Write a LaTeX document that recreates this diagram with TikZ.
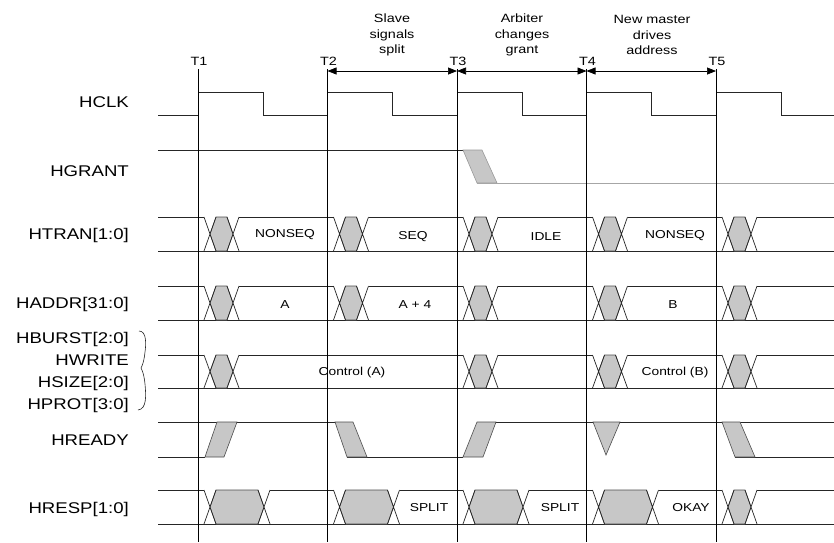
\documentclass[tikz,border=0pt]{standalone}
\usepackage{fontspec}
\setmainfont{Liberation Sans}[FakeStretch=1.2]
\usetikzlibrary{arrows.meta}

\tikzstyle{signame} = [anchor=base east, inner sep=0pt, font=\fontsize{15.5}{18}\selectfont]
\tikzstyle{buslabel} = [anchor=base, inner sep=0pt, font=\fontsize{11.5}{13}\selectfont]
\tikzstyle{tlabel} = [anchor=base, inner sep=0pt, font=\fontsize{12}{14}\selectfont]
\tikzstyle{remark} = [align=center, inner sep=0pt, font=\fontsize{12}{15.5}\selectfont]
\tikzstyle{wave} = [draw=black!85, line width=0.7pt]
\tikzstyle{hex} = [fill=black!22, draw=black!70, line width=0.6pt]
\tikzstyle{edgeline} = [draw=black, line width=0.8pt]

% #1 and #2 crossing points, #3 top, #4 bottom
\newcommand{\busswap}[4]{
  \fill[white] (#1-6,#3) rectangle (#2+6,#4);
  \filldraw[hex] (#1,{(#3+#4)/2}) -- (#1+6,#3) -- (#2-6,#3) -- (#2,{(#3+#4)/2})
                 -- (#2-6,#4) -- (#1+6,#4) -- cycle;
  \draw[wave] (#1-6,#3) -- (#1+6,#4) (#1-6,#4) -- (#1+6,#3)
              (#2-6,#3) -- (#2+6,#4) (#2-6,#4) -- (#2+6,#3);
}

\begin{document}
\begin{tikzpicture}[x=1pt,y=-1pt,>={Triangle[length=9pt,width=7pt]},line join=miter]
  \useasboundingbox (0,0) rectangle (834,542);

  % signal names
  \node[signame] (hclk)   at (129,107.5) {HCLK};
  \node[signame] (hgrant) at (129,176.5) {HGRANT};
  \node[signame] (htran)  at (129,239.5) {HTRAN[1:0]};
  \node[signame] (haddr)  at (129,308)   {HADDR[31:0]};
  \node[signame] (hburst) at (129,343.5) {HBURST[2:0]};
  \node[signame] (hwrite) at (129,365.5) {HWRITE};
  \node[signame] (hsize)  at (129,387.5) {HSIZE[2:0]};
  \node[signame] (hprot)  at (129,409.5) {HPROT[3:0]};
  \node[signame] (hready) at (129,445.5) {HREADY};
  \node[signame] (hresp)  at (129,513)   {HRESP[1:0]};
  \draw[wave, line width=0.6pt] (139,331) .. controls (147,331) and (146,345) .. (145,352)
        .. controls (144,362) and (142,366) .. (141,368)
        .. controls (142,370) and (144,374) .. (145,384)
        .. controls (146,395) and (147,409) .. (138,410);

  % HCLK
  \draw[wave] (158,115) -- (198,115) -- (198,92) -- (263,92) -- (263,115)
    -- (327.5,115) -- (327.5,92) -- (392.5,92) -- (392.5,115)
    -- (457,115) -- (457,92) -- (522,92) -- (522,115)
    -- (586.5,115) -- (586.5,92) -- (651.5,92) -- (651.5,115)
    -- (716,115) -- (716,92) -- (781,92) -- (781,115) -- (834,115);

  % HGRANT
  \draw[wave] (158,150) -- (463,150);
  \filldraw[fill=black!22, draw=black!40, line width=0.6pt]
    (463,150) -- (482,150) -- (497,183) -- (477,183) -- cycle;
  \draw[black!35, line width=1pt] (477,183) -- (834,183);

  % HTRAN
  \draw[wave] (158,217) -- (834,217) (158,251) -- (834,251);
  \foreach \x in {198,327.5,457,586.5,716}
    \busswap{\x+12}{\x+35}{217}{251};
  \node[buslabel] (nonseqa) at (285,237.5) {NONSEQ};
  \node[buslabel] (seq)     at (413,239)   {SEQ};
  \node[buslabel] (idle)    at (546,240.5) {IDLE};
  \node[buslabel] (nonseqb) at (675,238)   {NONSEQ};

  % HADDR
  \draw[wave] (158,286) -- (834,286) (158,320) -- (834,320);
  \foreach \x in {198,327.5,457,586.5,716}
    \busswap{\x+12}{\x+35}{286}{320};
  \node[buslabel] (addra)  at (285,308.5) {A};
  \node[buslabel] (addra4) at (415,308.5) {A + 4};
  \node[buslabel] (addrb)  at (673,308.5) {B};

  % control
  \draw[wave] (158,355) -- (834,355) (158,388) -- (834,388);
  \foreach \x in {198,457,586.5,716}
    \busswap{\x+12}{\x+35}{355}{388};
  \node[buslabel] (ctrla) at (352,375.5) {Control (A)};
  \node[buslabel] (ctrlb) at (675,375.5) {Control (B)};

  % HREADY
  \draw[wave] (158,422) -- (353,422) (477,422) -- (834,422);
  \draw[wave] (158,457) -- (205,457) (347,457) -- (463,457) (735,457) -- (834,457);
  \filldraw[hex] (205,457) -- (224,457) -- (237,422) -- (217,422) -- cycle;
  \filldraw[hex] (335,422) -- (353,422) -- (367,457) -- (347,457) -- cycle;
  \filldraw[hex] (463,457) -- (483,457) -- (496,422) -- (477,422) -- cycle;
  \filldraw[hex] (593,422) -- (620,422) -- (606,455) -- cycle;
  \filldraw[hex] (722,422) -- (740,422) -- (755,457) -- (735,457) -- cycle;

  % HRESP
  \draw[wave] (158,490) -- (834,490) (158,524) -- (834,524);
  \foreach \x in {198,327.5,457,586.5}
    \busswap{\x+12}{\x+66}{490}{524};
  \busswap{728}{751}{490}{524};
  \node[buslabel] (splita) at (429,511.5) {SPLIT};
  \node[buslabel] (splitb) at (560,511.5) {SPLIT};
  \node[buslabel] (okay)   at (691,511)   {OKAY};

  % clock edges
  \foreach \x/\n in {198/1,327.5/2,457/3,586.5/4,716/5}{
    \coordinate (t\n) at (\x,69);
    \coordinate (a\n) at (\x,71);
    \draw[edgeline] (t\n) -- (\x,542);
    \node[tlabel] (T\n) at (\x+1,65) {T\n};
  }
  \draw[<->, line width=0.7pt] (a2) -- (a3);
  \draw[<->, line width=0.7pt] (a3) -- (a4);
  \draw[<->, line width=0.7pt] (a4) -- (a5);
  \node[remark] (slavesplit) at (392,35) {Slave\\signals\\split};
  \node[remark] (arbgrant)   at (522,35) {Arbiter\\changes\\grant};
  \node[remark] (newmaster)  at (652,35) {New master\\drives\\address};
\end{tikzpicture}
\end{document}
